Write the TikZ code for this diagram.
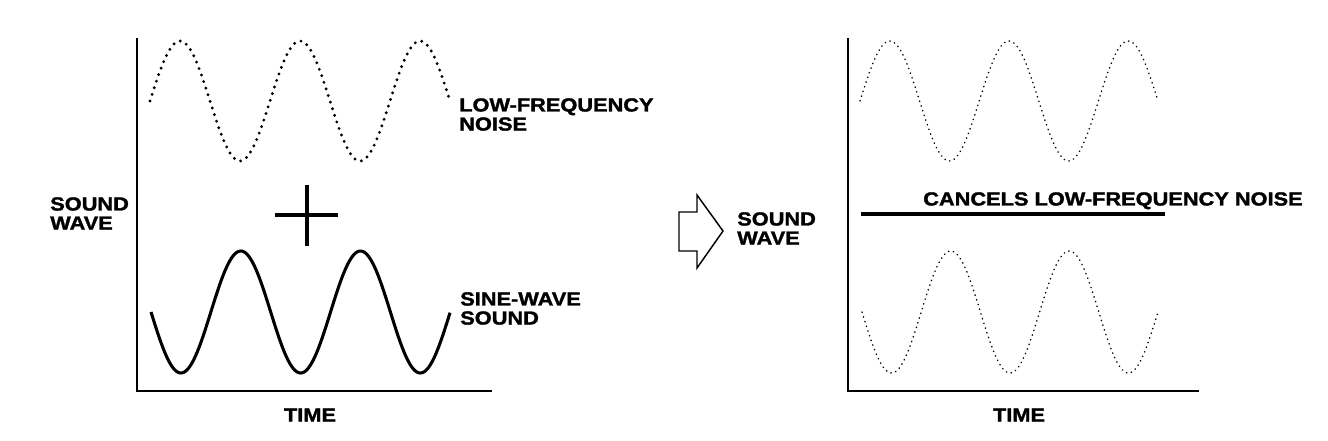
\documentclass[tikz,border=0pt]{standalone}
\usepackage{fontspec}
\newfontfamily\heavy{Liberation Sans Bold}[FakeStretch=1.15,FakeBold=1.6]
\begin{document}
\begin{tikzpicture}[x=0.75pt,y=-0.75pt,
  lbl/.style={font=\heavy\fontsize{14.2}{14.3}\selectfont,inner sep=0pt,align=left},
  axis/.style={line width=1.1pt},
  bigdots/.style={line width=2.4pt,line cap=round,dash pattern=on 0pt off 5.2pt},
  smalldots/.style={line width=1.1pt,line cap=round,dash pattern=on 0.3pt off 3.4pt},
  solidwave/.style={line width=2.3pt},
]
\useasboundingbox (0,0) rectangle (1328,440);
% left axes
\coordinate (lo) at (137,391);
\coordinate (ltop) at (137,38);
\coordinate (lright) at (492,391);
\draw[axis] (ltop) -- (lo) -- (lright);
% left waves
\draw[bigdots] plot[domain=0:2.5,samples=240] ({150+120*\x},{101-60*sin(360*\x)});
\draw[solidwave] plot[domain=0:2.5,samples=240] ({151+119.7*\x},{312+61*sin(360*\x)});
% plus sign
\coordinate (pt) at (307,185);
\coordinate (pb) at (307,246);
\coordinate (pl) at (275,215);
\coordinate (pr) at (338,215);
\draw[line width=2.3pt] (pt) -- (pb) (pl) -- (pr);
% labels left
\node[lbl,anchor=north west] (lfn) at (459,98) {LOW-FREQUENCY\\NOISE};
\node[lbl,anchor=north west] (sws) at (460,292) {SINE-WAVE\\SOUND};
\node[lbl,anchor=north west] (sw1) at (50,197) {SOUND\\WAVE};
\node[lbl] (t1) at (310,415) {TIME};
% block arrow
\coordinate (a1) at (679,212);
\coordinate (a2) at (697,212);
\coordinate (a3) at (697,195);
\coordinate (a4) at (723,231);
\coordinate (a5) at (697,268);
\coordinate (a6) at (697,251);
\coordinate (a7) at (679,251);
\draw[line width=1.1pt,line join=miter] (a1) -- (a2) -- (a3) -- (a4) -- (a5) -- (a6) -- (a7) -- cycle;
\node[lbl,anchor=north west] (sw2) at (737,212) {SOUND\\WAVE};
% right axes
\coordinate (ro) at (848,391);
\coordinate (rtop) at (848,38);
\coordinate (rright) at (1199,391);
\draw[axis] (rtop) -- (ro) -- (rright);
\draw[smalldots] plot[domain=0:2.5,samples=240] ({860+119.2*\x},{101-60*sin(360*\x)});
\draw[smalldots] plot[domain=0:2.5,samples=240] ({862+118.4*\x},{312+61*sin(360*\x)});
\coordinate (cl) at (861,214);
\coordinate (cr) at (1165,214);
\draw[line width=2.3pt] (cl) -- (cr);
\node[lbl,anchor=north west] (cn) at (923,192) {CANCELS LOW-FREQUENCY NOISE};
\node[lbl] (t2) at (1019,415) {TIME};
\end{tikzpicture}
\end{document}
